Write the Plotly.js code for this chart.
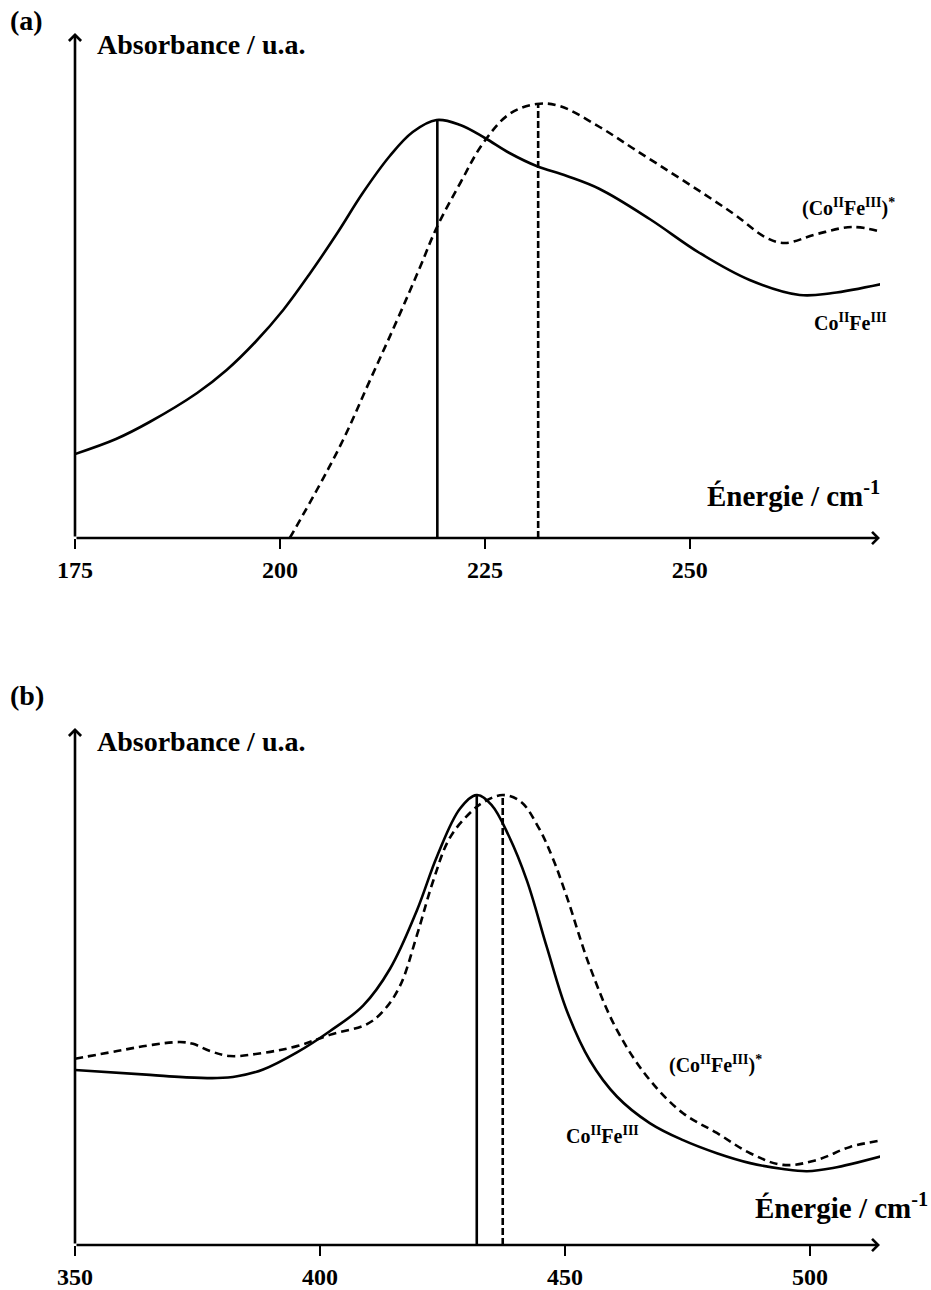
<!DOCTYPE html>
<html>
<head>
<meta charset="utf-8">
<script src="https://cdn.plot.ly/plotly-3.0.1.min.js"></script>
<style>html,body{margin:0;padding:0;background:#fff;}</style>
</head>
<body>
<div id="chart" style="width:931px;height:1290px;"></div>
<script>
// ---------- Panel (a) ----------
const aSolidX = [175, 180.0, 184.1, 189.9, 193.5, 197.0, 200.4, 203.7, 207.0, 210.1, 213.4, 216.2, 219.1, 222.0, 225.0, 228.0, 231.3, 235.0, 239.0, 245.1, 251.2, 257.3, 263.4, 267.4, 273.4];
const aSolidY = [0.168, 0.198, 0.232, 0.290, 0.336, 0.392, 0.456, 0.530, 0.610, 0.690, 0.764, 0.812, 0.836, 0.826, 0.800, 0.770, 0.744, 0.724, 0.698, 0.638, 0.570, 0.516, 0.486, 0.490, 0.508];
const aDashX = [201.2, 204.5, 207.7, 211.0, 214.3, 217.1, 219.1, 222.0, 224.8, 228.0, 231.3, 234.1, 239.0, 243.0, 249.1, 255.2, 259.4, 261.6, 265.5, 269.9, 273.4];
const aDashY = [0.0, 0.096, 0.196, 0.316, 0.436, 0.542, 0.620, 0.710, 0.790, 0.848, 0.868, 0.864, 0.822, 0.780, 0.716, 0.650, 0.600, 0.590, 0.608, 0.622, 0.612];
const aPeakX = [219.2, 231.5];     // solid, dashed
const aPeakY = [0.836, 0.868];
const aTicks = [175, 200, 225, 250];

// ---------- Panel (b) ----------
const bSolidX = [350, 365.3, 372.0, 379.0, 383.1, 388.4, 395.3, 402.0, 408.8, 414.3, 419.8, 423.9, 428.6, 432.0, 435.0, 438.5, 442.2, 446.3, 450.4, 455.1, 460.6, 467.3, 474.1, 481.0, 487.8, 494.5, 499.4, 504.7, 514.9];
const bSolidY = [0.389, 0.378, 0.373, 0.371, 0.375, 0.390, 0.428, 0.475, 0.532, 0.614, 0.744, 0.864, 0.970, 1.0, 0.978, 0.910, 0.811, 0.662, 0.520, 0.410, 0.330, 0.271, 0.233, 0.204, 0.182, 0.169, 0.164, 0.171, 0.198];
const bDashX = [350, 358.6, 365.3, 371.4, 374.1, 377.6, 381.6, 388.4, 395.3, 402.0, 409.6, 412.9, 416.3, 419.8, 423.1, 426.5, 430.6, 433.5, 437.3, 441.0, 444.5, 447.5, 450.4, 455.1, 460.6, 467.3, 474.1, 481.0, 487.8, 494.5, 501.4, 508.2, 514.9];
const bDashY = [0.414, 0.431, 0.444, 0.451, 0.447, 0.431, 0.420, 0.427, 0.442, 0.467, 0.491, 0.520, 0.575, 0.689, 0.809, 0.905, 0.960, 0.985, 1.0, 0.985, 0.930, 0.860, 0.773, 0.618, 0.478, 0.367, 0.293, 0.249, 0.204, 0.178, 0.189, 0.218, 0.233];
const bPeakX = [432.0, 437.3];
const bPeakY = [1.0, 1.0];
const bTicks = [350, 400, 450, 500];

const seriesStar = '(Co<sup>II</sup>Fe<sup>III</sup>)<sup>*</sup>';
const seriesPlain = 'Co<sup>II</sup>Fe<sup>III</sup>';
const yTitle = 'Absorbance / u.a.';
const xTitle = 'Énergie / cm<sup>-1</sup>';

const FONT = 'Liberation Serif';
const LW = 2.6;

function curve(x, y, xa, ya, dash) {
  return {x: x, y: y, xaxis: xa, yaxis: ya, mode: 'lines', type: 'scatter',
    line: {color: '#000', width: LW, shape: 'spline', smoothing: 1.05, dash: dash},
    hoverinfo: 'skip', showlegend: false, cliponaxis: false};
}
function vline(x, y, xa, ya, dash) {
  return {x: [x, x], y: [0, y], xaxis: xa, yaxis: ya, mode: 'lines', type: 'scatter',
    line: {color: '#000', width: LW, dash: dash}, hoverinfo: 'skip', showlegend: false};
}

const data = [
  curve(aSolidX, aSolidY, 'x', 'y', 'solid'),
  curve(aDashX, aDashY, 'x', 'y', '8px,5px'),
  vline(aPeakX[0], aPeakY[0], 'x', 'y', 'solid'),
  vline(aPeakX[1], aPeakY[1], 'x', 'y', '7px,3px'),
  curve(bSolidX, bSolidY, 'x2', 'y2', 'solid'),
  curve(bDashX, bDashY, 'x2', 'y2', '8px,5px'),
  vline(bPeakX[0], bPeakY[0], 'x2', 'y2', 'solid'),
  vline(bPeakX[1], bPeakY[1], 'x2', 'y2', '7px,3px')
];

const tickFont = {family: FONT, size: 24, color: '#000', weight: 'bold'};
function xax(domain, range, ticks) {
  return {domain: domain, range: range, tickvals: ticks, ticktext: ticks.map(String),
    ticks: 'outside', ticklen: 10, tickwidth: 2.5, tickcolor: '#000',
    showline: false, showgrid: false, zeroline: false, tickfont: tickFont, fixedrange: true};
}
function yax(domain, range, anchor) {
  return {domain: domain, range: range, showticklabels: false, ticks: '', anchor: anchor,
    showline: false, showgrid: false, zeroline: false, fixedrange: true};
}

function arrow(xref, yref, x0, y0, x1, y1) {
  return {xref: xref, yref: yref, axref: xref, ayref: yref, x: x1, y: y1, ax: x0, ay: y0,
    text: '', showarrow: true, arrowhead: 4, arrowsize: 0.9, arrowwidth: 2.6, arrowcolor: '#000', standoff: 0};
}
function label(text, x, y, size, xanchor) {
  return {xref: 'paper', yref: 'paper', x: x / 931, y: 1 - y / 1290, text: text, showarrow: false,
    xanchor: xanchor || 'left', yanchor: 'middle', font: {family: FONT, size: size, color: '#000', weight: 'bold'}};
}

const aXR = [175, 273.2], aYR = [0, 1.01];
const bXR = [350, 514.3], bYR = [0, 1.149];

const layout = {
  width: 931, height: 1290,
  margin: {l: 0, r: 0, t: 0, b: 0},
  paper_bgcolor: '#fff', plot_bgcolor: '#fff',
  showlegend: false,
  font: {family: FONT, color: '#000'},
  xaxis: Object.assign(xax([75/931, 880/931], aXR, aTicks), {anchor: 'y'}),
  yaxis: yax([1 - 538/1290, 1 - 33/1290], aYR, 'x'),
  xaxis2: Object.assign(xax([75/931, 880/931], bXR, bTicks), {anchor: 'y2'}),
  yaxis2: yax([1 - 1245/1290, 1 - 728/1290], bYR, 'x2'),
  annotations: [
    arrow('x', 'y', aXR[0], 0, aXR[1], 0),
    arrow('x', 'y', aXR[0], 0, aXR[0], aYR[1]),
    arrow('x2', 'y2', bXR[0], 0, bXR[1], 0),
    arrow('x2', 'y2', bXR[0], 0, bXR[0], bYR[1]),
    label('(a)', 8, 20, 28),
    label('(b)', 8, 695, 28),
    label(yTitle, 95, 45, 28),
    label(yTitle, 95, 741, 28),
    label(xTitle, 882, 494, 29, 'right'),
    label(xTitle, 930, 1206, 29, 'right'),
    label(seriesStar, 800, 207, 20),
    label(seriesPlain, 812, 322, 20),
    label(seriesStar, 667, 1064, 20),
    label(seriesPlain, 564, 1135, 20)
  ]
};

Plotly.newPlot('chart', data, layout, {staticPlot: true, displayModeBar: false});
</script>
</body>
</html>
